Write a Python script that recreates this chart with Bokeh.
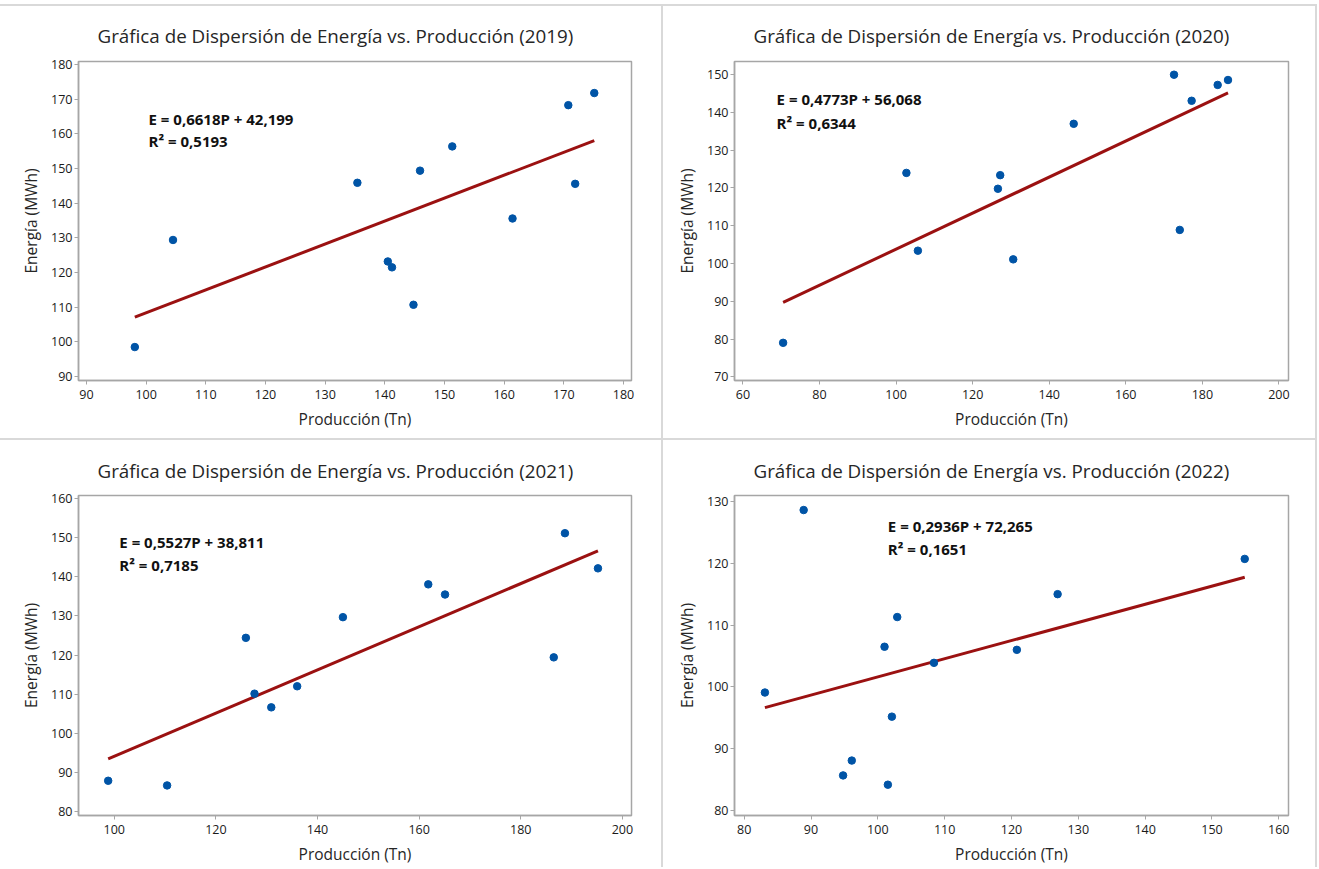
from bokeh.plotting import figure
from bokeh.models import FixedTicker, Label, Spacer
from bokeh.layouts import column, row
from bokeh.embed import file_html
from bokeh.resources import INLINE

# ---------------- data ----------------
years = ["2019", "2020", "2021", "2022"]

prod_2019 = [98.1, 104.5, 135.4, 140.5, 141.2, 144.8, 145.9, 151.3, 161.4, 170.75, 171.9, 175.1]
ener_2019 = [98.5, 129.4, 145.9, 123.2, 121.5, 110.7, 149.4, 156.4, 135.6, 168.3, 145.6, 171.8]

prod_2020 = [70.5, 102.7, 105.7, 126.6, 127.2, 130.6, 146.4, 172.6, 174.1, 177.2, 184.0, 186.7]
ener_2020 = [79.0, 124.0, 103.4, 119.8, 123.4, 101.1, 137.0, 150.0, 108.9, 143.1, 147.3, 148.6]

prod_2021 = [98.8, 110.4, 125.9, 127.6, 130.9, 136.0, 145.0, 161.8, 165.1, 186.5, 188.7, 195.2]
ener_2021 = [87.8, 86.6, 124.4, 110.1, 106.6, 112.0, 129.7, 138.1, 135.5, 119.4, 151.2, 142.2]

prod_2022 = [83.1, 88.9, 94.8, 96.1, 101.0, 101.5, 102.1, 102.9, 108.4, 120.8, 126.9, 154.9]
ener_2022 = [99.1, 128.6, 85.7, 88.1, 106.5, 84.2, 95.2, 111.3, 103.9, 106.0, 115.0, 120.7]

slopes = [0.6618, 0.4773, 0.5527, 0.2936]
intercepts = [42.199, 56.068, 38.811, 72.265]
r_squared = [0.5193, 0.6344, 0.7185, 0.1651]

xticks_2019 = [90, 100, 110, 120, 130, 140, 150, 160, 170, 180]
yticks_2019 = [90, 100, 110, 120, 130, 140, 150, 160, 170, 180]
xticks_2020 = [60, 80, 100, 120, 140, 160, 180, 200]
yticks_2020 = [70, 80, 90, 100, 110, 120, 130, 140, 150]
xticks_2021 = [100, 120, 140, 160, 180, 200]
yticks_2021 = [80, 90, 100, 110, 120, 130, 140, 150, 160]
xticks_2022 = [80, 90, 100, 110, 120, 130, 140, 150, 160]
yticks_2022 = [80, 90, 100, 110, 120, 130]

title_text = "Gráfica de Dispersión de Energía vs. Producción"
x_label = "Producción (Tn)"
y_label = "Energía (MWh)"

# ---------------- styling ----------------
FONT = "Open Sans"
SEP = "#d9d9d9"
FRAME = "#a6a6a6"
BLUE = "#0054a6"
RED = "#9b1111"


def fmt(v, n):
    return f"{v:.{n}f}".replace(".", ",")


def panel(i, xs, ys, xr, yr, xt, yt, w, h, borders, t_off, t_stand, eq_xy):
    bl, br, bt, bb = borders
    p = figure(width=w, height=h, x_range=xr, y_range=yr,
               output_backend="svg", toolbar_location=None,
               min_border_left=bl, min_border_right=br,
               min_border_top=bt, min_border_bottom=bb,
               background_fill_color="white", border_fill_color="white")
    p.title.text = f"{title_text} ({years[i]})"
    p.title.align = "left"
    p.title.vertical_align = "top"
    p.title.offset = t_off
    p.title.standoff = t_stand
    p.title.text_font = FONT
    p.title.text_font_size = "18.8px"
    p.title.text_font_style = "normal"
    p.title.text_color = "#262626"

    p.grid.visible = False
    p.outline_line_color = FRAME
    p.outline_line_width = 1.5

    for ax, ticks, lab, stand in ((p.xaxis[0], xt, x_label, 5), (p.yaxis[0], yt, y_label, 2)):
        ax.ticker = FixedTicker(ticks=ticks)
        ax.axis_label = lab
        ax.axis_label_text_font = FONT
        ax.axis_label_text_font_size = "15.5px"
        ax.axis_label_text_font_style = "normal"
        ax.axis_label_text_color = "#262626"
        ax.axis_label_standoff = 6
        ax.major_label_text_font = FONT
        ax.major_label_text_font_size = "12.5px"
        ax.major_label_text_color = "#1a1a1a"
        ax.major_label_standoff = stand
        ax.axis_line_color = FRAME
        ax.axis_line_width = 1.5
        ax.major_tick_line_color = FRAME
        ax.major_tick_in = 0
        ax.major_tick_out = 4
        ax.minor_tick_line_color = None

    x0, x1 = min(xs), max(xs)
    p.line([x0, x1], [slopes[i] * x0 + intercepts[i], slopes[i] * x1 + intercepts[i]],
           line_color=RED, line_width=3)
    p.scatter(xs, ys, size=7.5, marker="circle", fill_color=BLUE, line_color=BLUE)

    ex, ey1, ey2 = eq_xy
    p.add_layout(Label(x=ex, y=ey1,
                       text=f"E = {fmt(slopes[i], 4)}P + {fmt(intercepts[i], 3)}",
                       text_font=FONT, text_font_size="15px", text_font_style="bold",
                       text_color="#111111", text_baseline="middle", text_align="left"))
    p.add_layout(Label(x=ex, y=ey2, text=f"R² = {fmt(r_squared[i], 4)}",
                       text_font=FONT, text_font_size="15px", text_font_style="bold",
                       text_color="#111111", text_baseline="middle", text_align="left"))
    return p


p1 = panel(0, prod_2019, ener_2019, (88.66, 181.34), (88.85, 180.9), xticks_2019, yticks_2019,
           661, 432, (78, 30, 55, 58), 19, 21, (100.4, 164.4, 158.1))
p2 = panel(1, prod_2020, ener_2020, (57.8, 202.5), (69.02, 153.5), xticks_2020, yticks_2020,
           652, 432, (71, 27, 55, 58), 19, 21, (68.8, 143.5, 137.3))
p3 = panel(2, prod_2021, ener_2021, (92.96, 201.8), (78.9, 160.86), xticks_2021, yticks_2021,
           661, 427, (78, 30, 55, 52), 19, 20, (101.0, 149.0, 143.1))
p4 = panel(3, prod_2022, ener_2022, (78.55, 161.45), (79.22, 130.95), xticks_2022, yticks_2022,
           652, 427, (71, 27, 55, 52), 19, 20, (101.5, 126.05, 122.3))


def sep(w, h, color=SEP):
    return Spacer(width=w, height=h, styles={"background-color": color})


layout = column(
    sep(1317, 4, "white"),
    sep(1317, 2),
    row(p1, sep(2, 432), p2, sep(2, 432)),
    sep(1317, 2),
    row(p3, sep(2, 427), p4, sep(2, 427)),
)

open("out.html", "w").write(file_html(layout, INLINE))
